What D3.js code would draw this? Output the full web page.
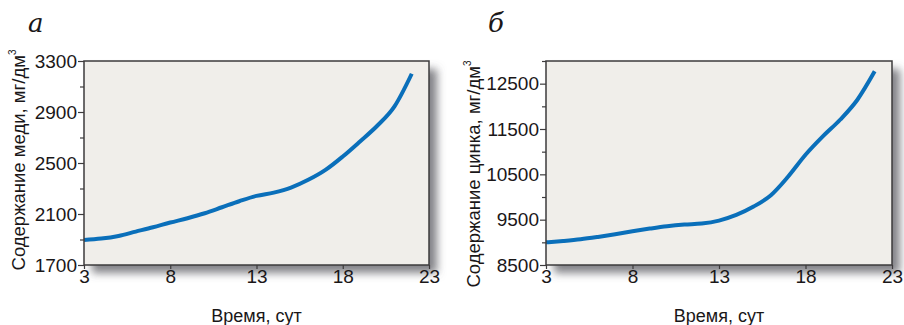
<!DOCTYPE html>
<html>
<head>
<meta charset="utf-8">
<script src="https://cdn.jsdelivr.net/npm/d3@7"></script>
<style>
  body { margin: 0; background: #fff; }
</style>
</head>
<body>
<div id="wrapper"></div>
<script>
// days
const days = [3, 4, 5, 6, 7, 8, 9, 10, 11, 12, 13, 14, 15, 16, 17, 18, 19, 20, 21, 22]

// copper, mg/dm3
const copper = [1896, 1907, 1928, 1962, 1996, 2033, 2067, 2106, 2153, 2200, 2242, 2268, 2307, 2368, 2446, 2551, 2669, 2792, 2944, 3200]

// zinc, mg/dm3
const zinc = [9000, 9030, 9067, 9119, 9178, 9244, 9303, 9355, 9391, 9413, 9480, 9605, 9789, 10040, 10452, 10931, 11336, 11704, 12146, 12772]

const xTicks = [3, 8, 13, 18, 23]
const copperTicks = [1700, 2100, 2500, 2900, 3300]
const copperMinor = [1900, 2300, 2700, 3100]
const zincTicks = [8500, 9500, 10500, 11500, 12500]
const zincMinor = [9000, 10000, 11000, 12000, 13000]

const panels = [
  {
    letter: "а", left: 84, right: 429, values: copper,
    domain: [1700, 3300], ticks: copperTicks, minor: copperMinor,
    yTitle: "Содержание меди, мг/дм", titleX: 25, titleY: 160, letterX: 28,
  },
  {
    letter: "б", left: 546, right: 892, values: zinc,
    domain: [8500, 13000], ticks: zincTicks, minor: zincMinor,
    yTitle: "Содержание цинка, мг/дм", titleX: 480, titleY: 174, letterX: 488,
  },
]

const dimensions = { width: 904, height: 325, top: 61, bottom: 265 }
const fontFamily = '"Liberation Sans", Arial, sans-serif'
const textColor = "#1a1718"

const wrapper = d3.select("#wrapper")
  .append("svg")
  .attr("width", dimensions.width)
  .attr("height", dimensions.height)

const defs = wrapper.append("defs")
const shadow = defs.append("filter")
  .attr("id", "shadow")
  .attr("x", "-10%").attr("y", "-10%")
  .attr("width", "130%").attr("height", "130%")
shadow.append("feDropShadow")
  .attr("dx", 8).attr("dy", 8)
  .attr("stdDeviation", 4)
  .attr("flood-color", "#5a5a5e")
  .attr("flood-opacity", 0.75)

function styleTicks(sel) {
  sel.select(".domain").remove()
  sel.selectAll("line").attr("stroke", "#3d3b3c").attr("stroke-width", 1.2)
  sel.selectAll("text")
    .style("font-family", fontFamily)
    .style("font-size", "19px")
    .attr("fill", textColor)
}

panels.forEach(p => {
  const xScale = d3.scaleLinear()
    .domain([3, 23])
    .range([p.left, p.right])

  const yScale = d3.scaleLinear()
    .domain(p.domain)
    .range([dimensions.bottom, dimensions.top])

  const g = wrapper.append("g")

  // background with shadow
  g.append("rect")
    .attr("x", p.left)
    .attr("y", dimensions.top)
    .attr("width", p.right - p.left)
    .attr("height", dimensions.bottom - dimensions.top)
    .attr("fill", "#f0eeea")
    .attr("filter", "url(#shadow)")

  const lineGenerator = d3.line()
    .x((d, i) => xScale(days[i]))
    .y(d => yScale(d))
    .curve(d3.curveMonotoneX)

  g.append("path")
    .attr("d", lineGenerator(p.values))
    .attr("fill", "none")
    .attr("stroke", "#0a6fba")
    .attr("stroke-width", 4)

  g.append("rect")
    .attr("x", p.left)
    .attr("y", dimensions.top)
    .attr("width", p.right - p.left)
    .attr("height", dimensions.bottom - dimensions.top)
    .attr("fill", "none")
    .attr("stroke", "#3d3b3c")
    .attr("stroke-width", 1.5)

  // y axis
  const yAxis = d3.axisLeft(yScale)
    .tickValues(p.ticks)
    .tickFormat(d3.format("d"))
    .tickSize(6)
    .tickPadding(1)
  g.append("g")
    .attr("transform", `translate(${p.left},0)`)
    .call(yAxis)
    .call(styleTicks)

  const yMinor = d3.axisLeft(yScale)
    .tickValues(p.minor)
    .tickSize(4)
    .tickFormat("")
  g.append("g")
    .attr("transform", `translate(${p.left},0)`)
    .call(yMinor)
    .call(styleTicks)

  // x axis
  const xAxis = d3.axisBottom(xScale)
    .tickValues(xTicks)
    .tickSize(4)
    .tickPadding(1)
  g.append("g")
    .attr("transform", `translate(0,${dimensions.bottom})`)
    .call(xAxis)
    .call(styleTicks)

  // x title
  g.append("text")
    .attr("x", (p.left + p.right) / 2)
    .attr("y", 322)
    .attr("text-anchor", "middle")
    .style("font-family", fontFamily)
    .style("font-size", "18px")
    .attr("fill", textColor)
    .text("Время, сут")

  // y title
  const yTitle = g.append("text")
    .attr("transform", `translate(${p.titleX},${p.titleY}) rotate(-90)`)
    .attr("text-anchor", "middle")
    .style("font-family", fontFamily)
    .style("font-size", "18.5px")
    .attr("fill", textColor)
  yTitle.append("tspan").text(p.yTitle)
  yTitle.append("tspan")
    .style("font-size", "10px")
    .attr("dy", -9)
    .text("3")

  // panel letter
  g.append("text")
    .attr("x", p.letterX)
    .attr("y", 32)
    .style("font-family", '"DejaVu Serif", "Liberation Serif", serif')
    .style("font-style", "italic")
    .style("font-size", "26px")
    .attr("fill", textColor)
    .text(p.letter)
})
</script>
</body>
</html>
